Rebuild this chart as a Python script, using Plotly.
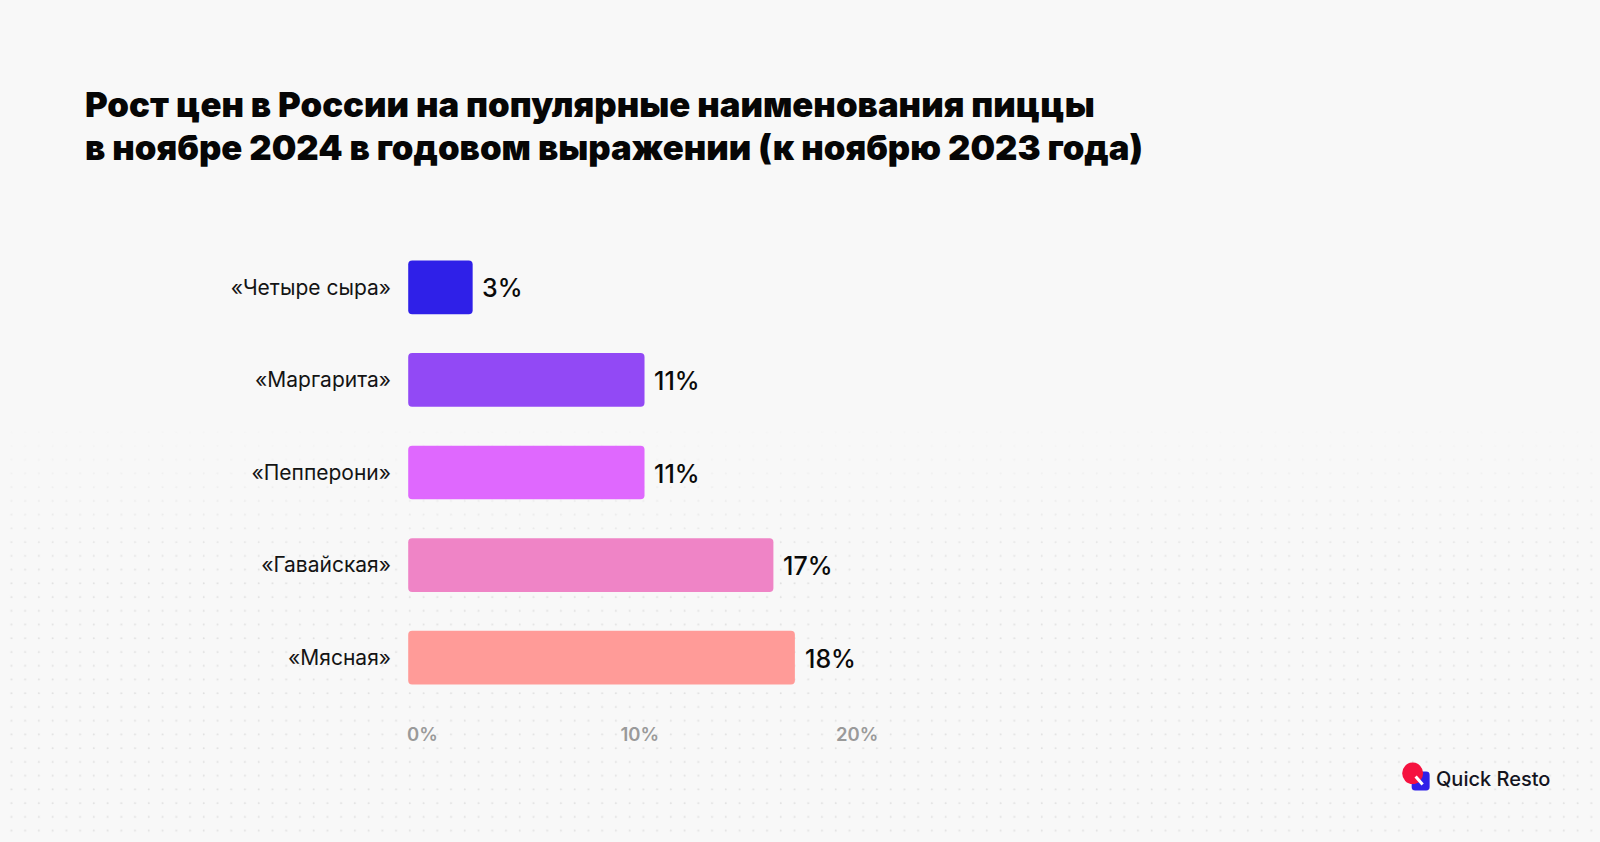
import plotly.graph_objects as go

categories = ["«Четыре сыра»", "«Маргарита»", "«Пепперони»", "«Гавайская»", "«Мясная»"]
values = [3, 11, 11, 17, 18]
value_labels = ["3%", "11%", "11%", "17%", "18%"]
colors = ["#2f20e8", "#9249f5", "#df68fe", "#ef84c6", "#ff9b98"]
tick_values = [0, 10, 20]
tick_labels = ["0%", "10%", "20%"]
title_lines = [
    "Рост цен в России на популярные наименования пиццы",
    "в ноябре 2024 в годовом выражении (к ноябрю 2023 года)",
]

W, H = 1600, 842
FONT = "Inter"
PX_BAR = 21.5
PX_TICK = 21.75
L, R, T, B = 407.5, 1000, 241, 704.4
RADIUS = 4.5
BASE = 0.01  # a base off zero makes plotly round both ends of a bar

svg = ("data:image/svg+xml;utf8,<svg xmlns='http://www.w3.org/2000/svg' width='1600' height='842'>"
       "<defs><pattern id='p' width='13.75' height='13.75' patternUnits='userSpaceOnUse'>"
       "<circle cx='10.55' cy='6.05' r='1' fill='%23e0e0e0'/></pattern>"
       "<linearGradient id='g' x1='0' y1='0' x2='0' y2='1'><stop offset='0.52' stop-color='white' stop-opacity='0.1'/>"
       "<stop offset='0.68' stop-color='white'/></linearGradient>"
       "<mask id='m'><rect y='430' width='1600' height='412' fill='white' fill-opacity='0'/>"
       "<rect width='1600' height='842' fill='url(%23g)'/></mask></defs>"
       "<rect y='430' width='1600' height='412' fill='url(%23p)' mask='url(%23m)'/></svg>")

fig = go.Figure()
fig.add_trace(go.Bar(
    y=categories, x=values, base=[BASE] * len(values), orientation="h",
    marker=dict(color=colors, line=dict(width=0), cornerradius=RADIUS),
    hoverinfo="skip", showlegend=False,
))
fig.add_trace(go.Scatter(x=tick_values, y=[categories[0]] * 3, xaxis="x2", mode="markers",
                         marker=dict(opacity=0), hoverinfo="skip", showlegend=False))


def sx(x):
    return (x - L) / (R - L)


def sy(y):
    return (B - y) / (B - T)


annotations = []
for cat, val, lab in zip(categories, values, value_labels):
    annotations.append(dict(text=lab, x=val, y=cat, xref="x", yref="y", xanchor="left", yanchor="middle",
                            xshift=8, yshift=-1, showarrow=False,
                            font=dict(family=FONT, size=25, color="#0a0a0a", weight=500)))
for line, y in zip(title_lines, [104, 147]):
    annotations.append(dict(text=line, xref="paper", yref="paper", x=sx(82), y=sy(y),
                            xanchor="left", yanchor="middle", showarrow=False,
                            font=dict(family=FONT, size=34.7, color="#060606", weight=900)))
annotations.append(dict(text="Quick Resto", xref="paper", yref="paper", x=sx(1434), y=sy(779.5),
                        xanchor="left", yanchor="middle", showarrow=False,
                        font=dict(family=FONT, size=20, color="#14141e", weight=500)))

x0, x1, y0, y1, r = sx(1412), sx(1430), sy(772), sy(791), 3.5
rx, ry = r / (R - L), r / (B - T)
blue = (f"M {x0+rx} {y0} L {x1-rx} {y0} Q {x1} {y0} {x1} {y0-ry} L {x1} {y1+ry} Q {x1} {y1} {x1-rx} {y1} "
        f"L {x0+rx} {y1} Q {x0} {y1} {x0} {y1+ry} L {x0} {y0-ry} Q {x0} {y0} {x0+rx} {y0} Z")
shapes = [
    dict(type="path", xref="paper", yref="paper", path=blue, fillcolor="#2f20e8", line=dict(width=0), layer="above"),
    dict(type="circle", xref="paper", yref="paper", x0=sx(1402.5), x1=sx(1423.5), y0=sy(763), y1=sy(784.5),
         fillcolor="#f5123f", line=dict(width=0), layer="above"),
    dict(type="line", xref="paper", yref="paper", x0=sx(1416), x1=sx(1423), y0=sy(777), y1=sy(785),
         line=dict(color="#ffffff", width=3), layer="above"),
]

fig.update_layout(
    width=W, height=H, autosize=False,
    margin=dict(l=L, r=W - R, t=T, b=H - B, pad=0),
    paper_bgcolor="#f8f8f8", plot_bgcolor="rgba(0,0,0,0)",
    bargap=0.42,
    font=dict(family=FONT),
    xaxis=dict(range=[0, (R - L) / PX_BAR], showgrid=False, zeroline=False, showline=False,
               showticklabels=False, ticks=""),
    xaxis2=dict(overlaying="x", side="bottom", range=[-14.5 / PX_TICK, (R - L - 14.5) / PX_TICK],
                tickvals=tick_values, ticktext=tick_labels, showgrid=False, zeroline=False, showline=False,
                ticks="", ticklabelstandoff=17,
                tickfont=dict(family=FONT, size=18.5, color="#9a9a9a", weight=600)),
    yaxis=dict(autorange="reversed", showgrid=False, zeroline=False, showline=False, ticks="",
               ticklen=0, ticklabelstandoff=16,
               tickfont=dict(family=FONT, size=21, color="#141414")),
    annotations=annotations, shapes=shapes,
    images=[dict(source=svg, xref="paper", yref="paper", x=sx(0), y=sy(0), sizex=W / (R - L), sizey=H / (B - T),
                 sizing="stretch", xanchor="left", yanchor="top", layer="below")],
)
fig.write_html("out.html", config={"displayModeBar": False},
               post_script="document.body.style.margin='0';document.body.style.background='#f8f8f8';")
